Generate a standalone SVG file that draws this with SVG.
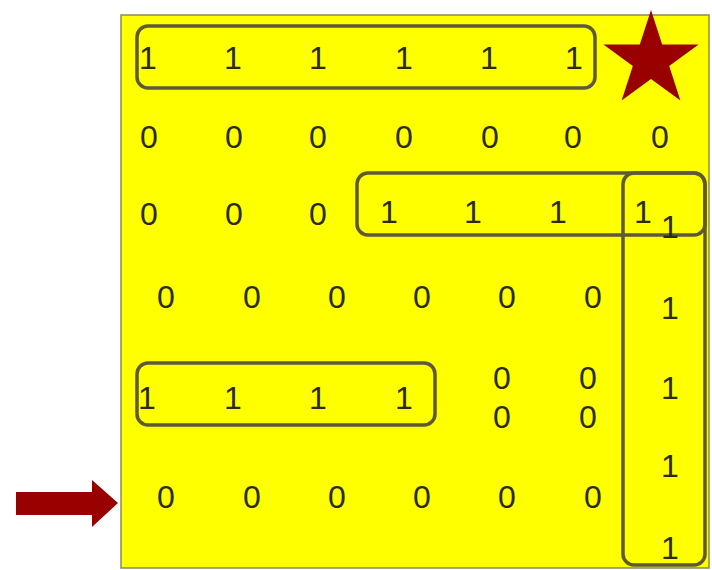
<svg xmlns="http://www.w3.org/2000/svg" width="712" height="570" viewBox="0 0 712 570">
<style>
.d{font-family:"Liberation Sans",Arial,sans-serif;font-size:32px;fill:#2b2b12;text-anchor:middle}
.box{fill:none;stroke:#5e5a38;stroke-width:3.5}
.mark{fill:#990000}
</style>
<rect id="grid" x="121" y="15" width="588" height="553" fill="#ffff00" stroke="#8a8a50" stroke-width="1.5"/>
<g id="row1">
<rect class="box" x="137" y="26" width="458" height="62" rx="11"/>
<text class="d" x="148" y="69">1</text><text class="d" x="233" y="69">1</text><text class="d" x="318" y="69">1</text><text class="d" x="404" y="69">1</text><text class="d" x="489" y="69">1</text><text class="d" x="574" y="69">1</text>
</g>
<g id="star"><polygon class="mark" points="651,10 662.2,44.5 698.6,44.5 669.2,65.9 680.4,100.5 651,79.1 621.6,100.5 632.8,65.9 603.4,44.5 639.8,44.5"/></g>
<g id="row2">
<text class="d" x="149" y="148">0</text><text class="d" x="234" y="148">0</text><text class="d" x="318" y="148">0</text><text class="d" x="404" y="148">0</text><text class="d" x="490" y="148">0</text><text class="d" x="573" y="148">0</text><text class="d" x="660" y="148">0</text>
</g>
<g id="row3">
<text class="d" x="149" y="225">0</text><text class="d" x="234" y="225">0</text><text class="d" x="318" y="225">0</text>
</g>
<g id="row3box">
<rect class="box" x="357" y="173" width="348" height="62" rx="11"/>
<text class="d" x="389" y="223">1</text><text class="d" x="473" y="223">1</text><text class="d" x="558" y="223">1</text><text class="d" x="643" y="223">1</text>
</g>
<g id="column">
<rect class="box" x="623" y="173" width="82" height="392" rx="11"/>
<text class="d" x="670" y="238">1</text><text class="d" x="670" y="319">1</text><text class="d" x="670" y="399">1</text><text class="d" x="670" y="477">1</text><text class="d" x="670" y="559">1</text>
</g>
<g id="row4">
<text class="d" x="166" y="308">0</text><text class="d" x="252" y="308">0</text><text class="d" x="337" y="308">0</text><text class="d" x="422" y="308">0</text><text class="d" x="507" y="308">0</text><text class="d" x="593" y="308">0</text>
</g>
<g id="row5box">
<rect class="box" x="137" y="363" width="298" height="62" rx="11"/>
<text class="d" x="147" y="409">1</text><text class="d" x="233" y="409">1</text><text class="d" x="318" y="409">1</text><text class="d" x="404" y="409">1</text>
</g>
<g id="row5">
<text class="d" x="502" y="389">0</text><text class="d" x="588" y="389">0</text>
<text class="d" x="502" y="428">0</text><text class="d" x="588" y="428">0</text>
</g>
<g id="row6">
<text class="d" x="166" y="508">0</text><text class="d" x="252" y="508">0</text><text class="d" x="337" y="508">0</text><text class="d" x="422" y="508">0</text><text class="d" x="507" y="508">0</text><text class="d" x="593" y="508">0</text>
</g>
<g id="arrow"><polygon class="mark" points="16,492 92,492 92,480 118,503 92,527 92,515 16,515"/></g>
<g id="connectors"></g>
</svg>
